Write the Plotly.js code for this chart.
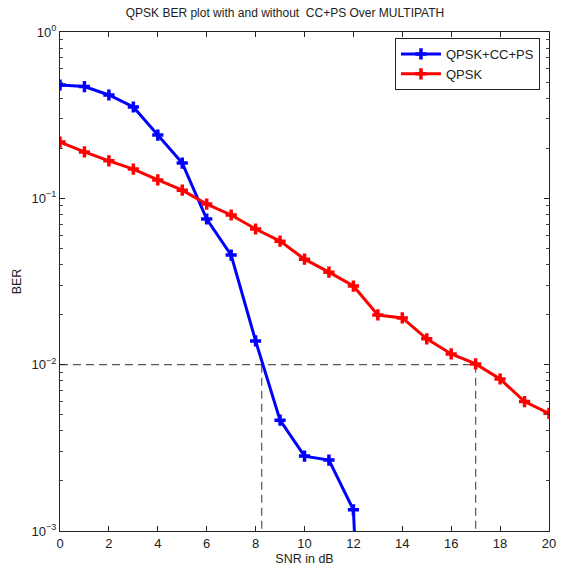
<!DOCTYPE html>
<html>
<head>
<meta charset="utf-8">
<script src="https://cdn.plot.ly/plotly-3.0.1.min.js"></script>
<style>body{margin:0;background:#fff}#chart{width:561px;height:576px}</style>
</head>
<body>
<div id="chart"></div>
<script>
// ---- data ----
const snr = [0,1,2,3,4,5,6,7,8,9,10,11,12,13,14,15,16,17,18,19,20];
const berCCPS = [0.48,0.47,0.418,0.354,0.24,0.163,0.0751,0.0456,0.0139,0.00464,0.00282,0.00267,0.00134,0.000001];
const berQPSK = [0.218,0.190,0.168,0.150,0.129,0.112,0.0924,0.0794,0.0654,0.0553,0.0431,0.0360,0.0297,0.0199,0.0191,0.0143,0.0116,0.0101,0.0082,0.0060,0.0051];
const seriesNames = ['QPSK+CC+PS','QPSK'];
const targetBER = 0.01;
const crossSNR = [8.25, 17];
const yTickVals = [1, 0.1, 0.01, 0.001];
const yTickText = ['10<sup>0</sup>','10<sup>\u22121</sup>','10<sup>\u22122</sup>','10<sup>\u22123</sup>'];
const xTickVals = [0,2,4,6,8,10,12,14,16,18,20];

// minor log ticks
const yMinor = [];
for (let e = -3; e < 0; e++) for (let m = 2; m <= 9; m++) yMinor.push(m * Math.pow(10, e));

const fam = 'Liberation Sans, Arial, sans-serif';
const txt = '#222';

function series(name, y, color) {
  return {
    x: snr.slice(0, y.length), y: y, name: name, type: 'scatter', mode: 'lines+markers',
    line: {color: color, width: 3},
    marker: {symbol: 'cross-thin', size: 8, color: color, line: {color: color, width: 3.5}},
    cliponaxis: true
  };
}

const dashLine = {color: '#555', width: 1.2, dash: '8px,5px'};
const traces = [
  {x: [0, crossSNR[1]], y: [targetBER, targetBER], mode: 'lines', showlegend: false, hoverinfo: 'skip', line: dashLine},
  {x: [crossSNR[0], crossSNR[0]], y: [targetBER, 0.001], mode: 'lines', showlegend: false, hoverinfo: 'skip', line: dashLine},
  {x: [crossSNR[1], crossSNR[1]], y: [targetBER, 0.001], mode: 'lines', showlegend: false, hoverinfo: 'skip', line: dashLine},
  series(seriesNames[0], berCCPS, '#0000ff'),
  series(seriesNames[1], berQPSK, '#ff0000')
];

const layout = {
  width: 561, height: 576,
  margin: {l: 60, r: 12, t: 32, b: 45},
  paper_bgcolor: '#fff', plot_bgcolor: '#fff',
  font: {family: fam, size: 12, color: txt},
  title: {text: 'QPSK BER plot with and without  CC+PS Over MULTIPATH', x: 0.508, xanchor: 'center',
          y: 0.977, yanchor: 'middle', yref: 'container', font: {family: fam, size: 12, color: txt}},
  showlegend: true,
  legend: {x: 0.685, y: 0.988, xanchor: 'left', yanchor: 'top', bgcolor: '#fff',
           bordercolor: '#222', borderwidth: 1, font: {family: fam, size: 13, color: txt},
           itemwidth: 40, tracegroupgap: 0},
  xaxis: {
    range: [0, 20], tickmode: 'array', tickvals: xTickVals, ticks: 'inside', ticklen: 5,
    tickcolor: '#222', showline: true, linecolor: '#222', linewidth: 1, mirror: 'ticks',
    showgrid: false, zeroline: false, tickfont: {family: fam, size: 13, color: txt},
    title: {text: 'SNR in dB', standoff: 4, font: {family: fam, size: 12.5, color: txt}}
  },
  yaxis: {
    type: 'log', range: [-3, 0], tickmode: 'array', tickvals: yTickVals, ticktext: yTickText,
    ticks: 'inside', ticklen: 5, tickcolor: '#222', showline: true, linecolor: '#222', linewidth: 1,
    mirror: 'ticks', showgrid: false, zeroline: false,
    tickfont: {family: fam, size: 13, color: txt},
    minor: {tickmode: 'array', tickvals: yMinor, ticks: 'inside', ticklen: 3, tickcolor: '#444', showgrid: false},
    title: {text: 'BER', standoff: 7, font: {family: fam, size: 12.5, color: txt}}
  }
};

Plotly.newPlot('chart', traces, layout, {staticPlot: true});
</script>
</body>
</html>
